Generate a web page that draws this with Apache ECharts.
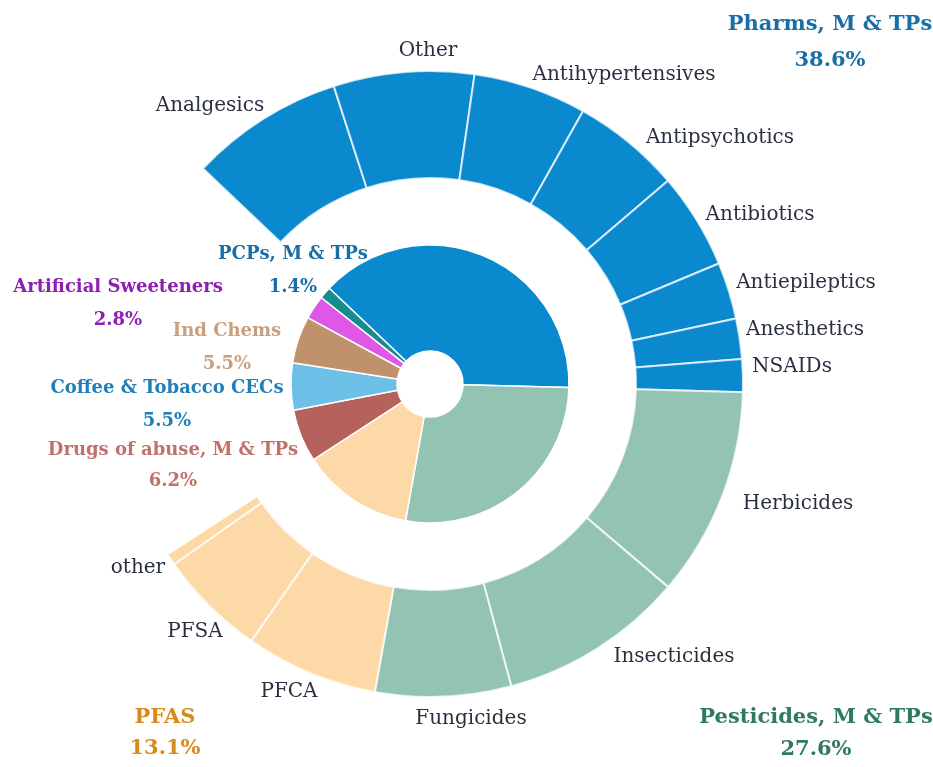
<!DOCTYPE html>
<html><head><meta charset="utf-8">
<script src="https://cdn.jsdelivr.net/npm/echarts@6/dist/echarts.min.js"></script>
<style>html,body{margin:0;padding:0;background:#fff}#chart{width:933px;height:767px}</style>
</head><body><div id="chart"></div>
<script>
// ---- data ----
const groupNames = ['Pharms, M & TPs','Pesticides, M & TPs','PFAS','Drugs of abuse, M & TPs','Coffee & Tobacco CECs','Ind Chems','Artificial Sweeteners','PCPs, M & TPs'];
const groupValues = [38.6, 27.6, 13.1, 6.2, 5.5, 5.5, 2.8, 1.4];
const groupPctLabels = ['38.6%','27.6%','13.1%','6.2%','5.5%','5.5%','2.8%','1.4%'];
const pharmsNames = ['Analgesics','Other','Antihypertensives','Antipsychotics','Antibiotics','Antiepileptics','Anesthetics','NSAIDs'];
const pharmsValues = [8.0, 7.3, 5.9, 5.65, 5.0, 2.95, 2.1, 1.7];
const pesticideNames = ['Herbicides','Insecticides','Fungicides'];
const pesticideValues = [10.9, 9.65, 7.05];
const pfasNames = ['PFCA','PFSA','other'];
const pfasValues = [6.9, 5.6, 0.6];

// ---- style ----
const groupColors = ['#0A89CF','#93C4B3','#FDD9A7','#B5625C','#6CBFE6','#C0926B','#E057E8','#168C8E'];
const groupTextColors = ['#1A6EA8','#2D7A5F','#DA8A1C','#C0716B','#1F80B9','#C9A07F','#8E1FB0','#1A6EA8'];
const groupFontSizes = [21, 21, 21, 18, 18, 18, 18, 18];
const groupLineHeights = [36, 32, 31, 31, 33, 33, 33, 33];
const groupLabelPos = [[830,43],[816,734],[165,733],[173,466],[167,405],[227,348],[118,304],[293,271]];
const subLabelPos = [[210,106],[428,51],[624,75],[720,138],[760,215],[806,283],[805,330],[792,367],
                     [798,504],[674,657],[471,719],
                     [289,692],[195,632],[138,568]];
const FONT = 'DejaVu Serif';

const sum = a => a.reduce((s, v) => s + v, 0);

const innerData = groupNames.map((n, i) => ({
  name: n,
  value: groupValues[i],
  itemStyle: { color: groupColors[i] },
  label: {
    formatter: n + '\n' + groupPctLabels[i],
    color: groupTextColors[i],
    fontSize: groupFontSizes[i],
    lineHeight: groupLineHeights[i]
  }
}));

const childSets = [
  { names: pharmsNames, values: pharmsValues, color: groupColors[0] },
  { names: pesticideNames, values: pesticideValues, color: groupColors[1] },
  { names: pfasNames, values: pfasValues, color: groupColors[2] }
];
const outerData = [];
childSets.forEach(set => {
  set.names.forEach((n, i) => outerData.push({ name: n, value: set.values[i], itemStyle: { color: set.color } }));
});
const gapValue = sum(groupValues) - sum(pharmsValues) - sum(pesticideValues) - sum(pfasValues);
outerData.push({
  name: 'gap', value: gapValue,
  itemStyle: { color: 'rgba(0,0,0,0)', borderWidth: 0 },
  label: { show: false }, labelLine: { show: false },
  emphasis: { disabled: true }, tooltip: { show: false }
});

const START = 136.5;
const CENTER = [430, 384];

const chart = echarts.init(document.getElementById('chart'));
chart.setOption({
  animation: false,
  backgroundColor: '#ffffff',
  series: [
    {
      type: 'pie',
      center: CENTER,
      radius: [33, 139],
      startAngle: START,
      clockwise: true,
      avoidLabelOverlap: false,
      emphasis: { scale: false },
      itemStyle: { borderColor: '#ffffff', borderWidth: 1.5 },
      label: {
        show: true, position: 'outside',
        fontFamily: FONT, fontWeight: 'bold', align: 'center'
      },
      labelLine: { show: false },
      labelLayout: p => {
        const pos = groupLabelPos[p.dataIndex];
        return { x: pos[0], y: pos[1], align: 'center', verticalAlign: 'middle' };
      },
      data: innerData
    },
    {
      type: 'pie',
      center: CENTER,
      radius: [206, 313],
      startAngle: START,
      clockwise: true,
      avoidLabelOverlap: false,
      emphasis: { scale: false },
      itemStyle: { borderColor: 'rgba(255,255,255,0.75)', borderWidth: 2 },
      label: {
        show: true, position: 'outside',
        fontFamily: FONT, fontSize: 20, color: '#2B3040'
      },
      labelLine: { show: false },
      labelLayout: p => {
        const pos = subLabelPos[p.dataIndex];
        if (!pos) return {};
        return { x: pos[0], y: pos[1], align: 'center', verticalAlign: 'middle' };
      },
      data: outerData
    }
  ]
});
</script>
</body></html>
